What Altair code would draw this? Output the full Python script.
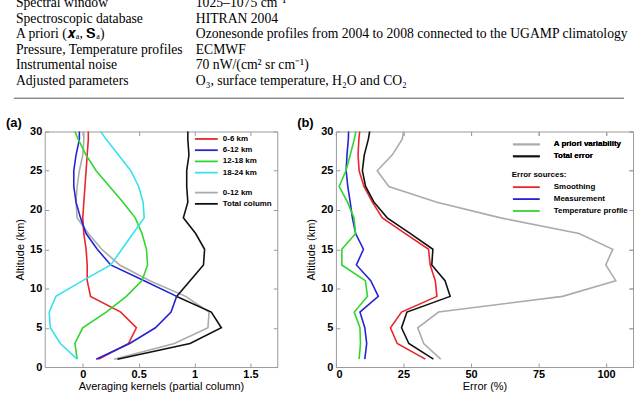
import altair as alt
import pandas as pd

FONT = "Liberation Sans"
SERIF = "Liberation Serif"
FRAME = "#9a9a9a"

# ---- retrieval setup table ----
ROW_NAMES = [
    "Spectral window",
    "Spectroscopic database",
    "A priori (𝒙ₐ, 𝐒ₐ)",
    "Pressure, Temperature profiles",
    "Instrumental noise",
    "Adjusted parameters",
]
ROW_VALUES = [
    "1025–1075 cm⁻¹",
    "HITRAN 2004",
    "Ozonesonde profiles from 2004 to 2008 connected to the UGAMP climatology",
    "ECMWF",
    "70 nW/(cm² sr cm⁻¹)",
    "O₃, surface temperature, H₂O and CO₂",
]

# ---- altitude grid (km) ----
ALTITUDE = [1, 3, 5, 7, 9, 11, 13, 15, 17, 19, 21, 23, 25, 27, 29, 30]

# ---- (a) averaging kernels of partial columns ----
AK_NAMES = ["0-6 km", "6-12 km", "12-18 km", "18-24 km"]
AK_COLORS = ["#e8262b", "#2424d6", "#2fd62f", "#36e3ea"]
ak_0_6 = [0.14, 0.41, 0.48, 0.34, 0.07, 0.04, 0.04, 0.03, 0.01, 0.00, 0.01, 0.02, 0.03, 0.04, 0.05, 0.05]
ak_6_12 = [0.12, 0.42, 0.65, 0.79, 0.84, 0.55, 0.25, 0.13, 0.03, -0.02, -0.06, -0.08, -0.08, -0.06, -0.03, -0.03]
ak_12_18 = [-0.05, -0.07, 0.00, 0.21, 0.39, 0.53, 0.58, 0.57, 0.53, 0.47, 0.36, 0.24, 0.12, 0.03, -0.04, -0.07]
ak_18_24 = [-0.05, -0.20, -0.29, -0.30, -0.24, 0.00, 0.25, 0.35, 0.45, 0.55, 0.54, 0.50, 0.43, 0.32, 0.21, 0.16]

AK2_NAMES = ["0-12 km", "Total column"]
AK2_COLORS = ["#ababab", "#111111"]
ak_0_12 = [0.28, 0.82, 1.12, 1.13, 0.92, 0.60, 0.33, 0.17, 0.05, -0.05, -0.06, -0.05, -0.03, 0.00, 0.01, 0.01]
ak_total = [0.31, 0.96, 1.24, 1.15, 0.84, 0.96, 1.08, 1.09, 1.01, 0.90, 0.94, 0.93, 0.93, 0.95, 0.94, 0.94]

# ---- (b) error profiles (%) ----
ERR_REF_NAMES = ["A priori variability", "Total error"]
ERR_REF_COLORS = ["#ababab", "#111111"]
apriori = [38.8, 32.5, 30.3, 38.0, 83.9, 103.6, 99.9, 102.5, 90.0, 61.0, 37.4, 19.6, 15.3, 20.8, 24.5, 25.1]
total_err = [36.1, 27.0, 24.3, 26.3, 42.3, 40.4, 35.5, 35.9, 27.6, 19.0, 14.1, 11.0, 9.8, 10.5, 12.0, 12.5]

ERR_SRC_NAMES = ["Smoothing", "Measurement", "Temperature profile"]
ERR_SRC_COLORS = ["#e8262b", "#2424d6", "#2fd62f"]
smoothing = [33.1, 22.7, 20.2, 24.3, 37.4, 36.8, 34.9, 34.3, 25.7, 17.2, 13.5, 10.4, 8.6, 8.2, 8.5, 8.8]
measurement = [10.7, 11.4, 10.7, 8.9, 15.7, 12.9, 7.6, 10.2, 7.3, 6.1, 5.3, 4.4, 3.8, 4.1, 4.6, 4.7]
temperature = [8.6, 9.1, 8.9, 6.8, 11.7, 10.9, 2.2, 2.2, 7.3, 6.7, 4.3, 1.2, 3.7, 5.3, 6.8, 7.4]

Y_TICKS = [0, 5, 10, 15, 20, 25, 30]
XA_TICKS = [0, 0.5, 1, 1.5]
XB_TICKS = [0, 25, 50, 75, 100]


def profiles(names, arrays):
    recs = []
    for name, arr in zip(names, arrays):
        for a, v in zip(ALTITUDE, arr):
            recs.append({"series": name, "alt": a, "value": v})
    return pd.DataFrame(recs)


# inward ticks on all four sides
tick_in = dict(offset=-4, tickSize=4, domain=False, tickColor=FRAME, tickWidth=1, grid=False)
no_text = dict(labels=False, title=None)

y_scale = alt.Scale(domain=[0, 30], nice=False, zero=False)

# legend line sample: a horizontal stroke from the entry origin, 4 symbol units long
LEGEND_LINE = "M-1,0H7"


def legend(x, y, length, gap, row_pad, title=None):
    unit = length / 4.0
    opts = dict(
        orient="none", legendX=x, legendY=y, symbolType=LEGEND_LINE,
        symbolSize=unit * unit, symbolStrokeWidth=1.8, labelOffset=3 * unit + gap,
        rowPadding=row_pad, labelFontSize=8, labelFontWeight="bold", labelFont=FONT,
        padding=0, labelColor="black",
    )
    if title is None:
        opts["title"] = None
    else:
        opts.update(title=title, titleFontSize=8, titleFontWeight="bold", titleFont=FONT,
                    titlePadding=4, titleColor="black")
    return alt.Legend(**opts)


def panel(x_scale, x_ticks, x_title, ref_df, ref_names, ref_colors, ref_legend,
          src_df, src_names, src_colors, src_legend, label, width):
    ref = alt.Chart(ref_df).mark_line(strokeWidth=1.6).encode(
        x=alt.X("value:Q", scale=x_scale,
                axis=alt.Axis(orient="top", values=x_ticks, **no_text, **tick_in)),
        y=alt.Y("alt:Q", scale=y_scale,
                axis=alt.Axis(orient="right", values=Y_TICKS, **no_text, **tick_in)),
        color=alt.Color("series:N", scale=alt.Scale(domain=ref_names, range=ref_colors),
                        legend=ref_legend),
        order="alt:Q",
    )
    src = alt.Chart(src_df).mark_line(strokeWidth=1.6).encode(
        x=alt.X("value:Q", scale=x_scale,
                axis=alt.Axis(orient="bottom", values=x_ticks, title=x_title, format="~f",
                              labelPadding=2, titlePadding=1, **tick_in)),
        y=alt.Y("alt:Q", scale=y_scale,
                axis=alt.Axis(orient="left", values=Y_TICKS, title="Altitude (km)",
                              labelPadding=3, titlePadding=4, **tick_in)),
        color=alt.Color("series:N", scale=alt.Scale(domain=src_names, range=src_colors),
                        legend=src_legend),
        order="alt:Q",
    )
    tag = alt.Chart(pd.DataFrame({"tag": [label]})).mark_text(
        align="left", baseline="middle", fontSize=13, fontWeight="bold", font=FONT, color="black"
    ).encode(x=alt.value(-39), y=alt.value(-8.5), text="tag:N")
    if ref_names[0] == "0-12 km":
        layers = [ref, src, tag]
    else:
        layers = [ref.transform_filter(alt.datum.series == ref_names[0]), src,
                  ref.transform_filter(alt.datum.series == ref_names[1]), tag]
    return alt.layer(*layers).resolve_scale(color="independent").properties(
        width=width, height=237,
        view=alt.ViewBackground(stroke=FRAME, strokeWidth=1),
    )


panel_a = panel(
    alt.Scale(domain=[-0.34, 1.74], nice=False, zero=False), XA_TICKS,
    "Averaging kernels (partial column)",
    profiles(AK2_NAMES, [ak_0_12, ak_total]), AK2_NAMES, AK2_COLORS,
    legend(150, 57.5, 23, 4, 3.3),
    profiles(AK_NAMES, [ak_0_6, ak_6_12, ak_12_18, ak_18_24]), AK_NAMES, AK_COLORS,
    legend(150, 3.5, 23, 4, 3.3),
    "(a)", 234,
)

panel_b = panel(
    alt.Scale(domain=[0, 110], nice=False, zero=False), XB_TICKS, "Error (%)",
    profiles(ERR_REF_NAMES, [apriori, total_err]), ERR_REF_NAMES, ERR_REF_COLORS,
    legend(177, 8.5, 27, 13, 3),
    profiles(ERR_SRC_NAMES, [smoothing, measurement, temperature]), ERR_SRC_NAMES, ERR_SRC_COLORS,
    legend(177, 39.5, 27, 13, 3, title="Error sources:"),
    "(b)", 299,
)

# ---- table drawn as text rows; its view shares the left edge of panel (a) ----
table_df = pd.DataFrame({"row": list(range(len(ROW_NAMES))), "name": ROW_NAMES, "val": ROW_VALUES})
row_y = alt.Y("row:Q", scale=alt.Scale(domain=[0, 5], range=[1.5, 79.5]), axis=None)
text_style = dict(align="left", baseline="middle", font=SERIF, fontSize=13.75, color="black")
col_left = alt.Chart(table_df).mark_text(**text_style).encode(x=alt.value(-29), y=row_y, text="name:N")
col_right = alt.Chart(table_df).mark_text(**text_style).encode(x=alt.value(152), y=row_y, text="val:N")
rule = alt.Chart(pd.DataFrame({"r": [0]})).mark_rule(color="#555555", strokeWidth=1).encode(
    x=alt.value(-31), x2=alt.value(583), y=alt.value(97))
table = alt.layer(col_left, col_right, rule).properties(
    width=590, height=100, view=alt.ViewBackground(stroke=None))

chart = alt.vconcat(
    table,
    alt.hconcat(panel_a, panel_b, spacing=18),
    spacing=15.5,
).properties(
    # the first table row sits partly above the top edge
    padding={"left": 5, "top": -5.4, "right": 5, "bottom": 0},
).configure(font=FONT).configure_view(stroke=None).configure_axis(
    grid=False, labelFont=FONT, titleFont=FONT, labelColor="black", titleColor="black",
    labelFontSize=11, labelFontWeight="bold", titleFontSize=11, titleFontWeight="normal",
)

chart.save("out.html", embed_options={"renderer": "svg", "actions": False})
